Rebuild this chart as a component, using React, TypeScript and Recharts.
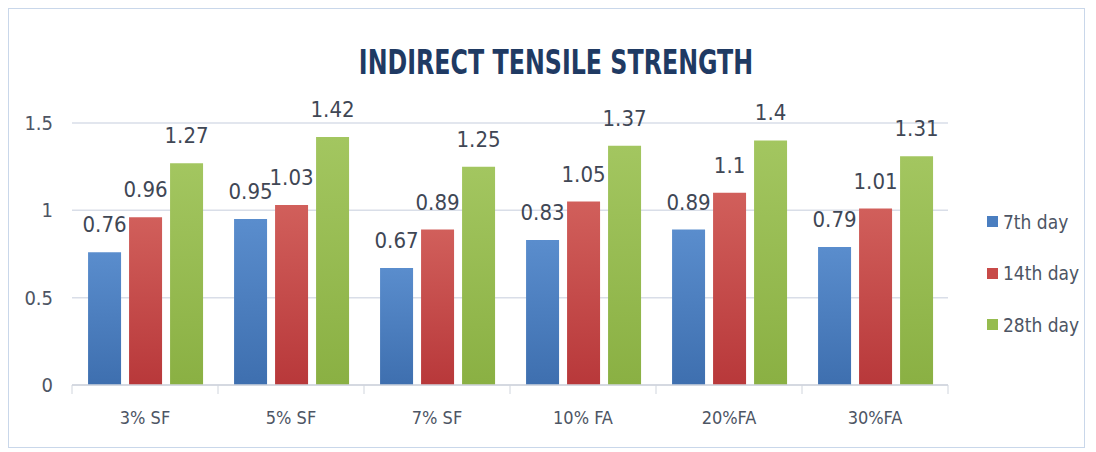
import React from 'react';
import { BarChart, Bar, XAxis, YAxis, CartesianGrid, LabelList } from 'recharts';

const categories = ['3% SF', '5% SF', '7% SF', '10% FA', '20%FA', '30%FA'];
const day7 = [0.76, 0.95, 0.67, 0.83, 0.89, 0.79];
const day14 = [0.96, 1.03, 0.89, 1.05, 1.1, 1.01];
const day28 = [1.27, 1.42, 1.25, 1.37, 1.4, 1.31];
const yTicks = [0, 0.5, 1, 1.5];

const FONT = '"DejaVu Sans Condensed", "Liberation Sans", sans-serif';

const series = [
  { key: 'd7', name: '7th day', top: '#5A8DCD', bottom: '#3E6FAF', swatch: '#4A7EC0' },
  { key: 'd14', name: '14th day', top: '#D15F5B', bottom: '#B8383A', swatch: '#C84A48' },
  { key: 'd28', name: '28th day', top: '#A3C660', bottom: '#8AB043', swatch: '#96BC4F' },
];

const data = categories.map((name, i) => ({
  name,
  d7: day7[i],
  d14: day14[i],
  d28: day28[i],
}));

// category label plus a short tick mark on the left edge of each band (and the last right edge)
const CategoryTick = (props: any) => {
  const { x, y, payload, index, width, visibleTicksCount } = props;
  const half = payload.offset || width / visibleTicksCount / 2;
  const last = index === visibleTicksCount - 1;
  return (
    <g>
      <line x1={x - half} x2={x - half} y1={y} y2={y + 9} stroke="#D0D5DD" />
      {last && <line x1={x + half} x2={x + half} y1={y} y2={y + 9} stroke="#D0D5DD" />}
      <text x={x} y={y + 39} textAnchor="middle" fill="#4D5564" fontSize={18} fontFamily={FONT}>
        {payload.value}
      </text>
    </g>
  );
};

const App = () => {
  return (
    <div
      style={{
        position: 'relative',
        width: 1075,
        height: 438,
        border: '1px solid #C9D7EA',
        background: '#fff',
        fontFamily: FONT,
      }}
    >
      <div
        style={{
          position: 'absolute',
          left: 0,
          width: 1094,
          top: 34,
          textAlign: 'center',
          fontSize: 33,
          fontWeight: 'bold',
          color: '#1F3A63',
          transform: 'scaleX(0.8)',
          transformOrigin: '547px 0',
        }}
      >
        INDIRECT TENSILE STRENGTH
      </div>
      <BarChart
        width={1074}
        height={437}
        data={data}
        margin={{ top: 114, right: 135, left: 0, bottom: 21 }}
        barCategoryGap="11%"
        barGap={8}
      >
        <defs>
          {series.map((s) => (
            <linearGradient key={s.key} id={`grad-${s.key}`} x1="0" y1="0" x2="0" y2="1">
              <stop offset="0%" stopColor={s.top} />
              <stop offset="100%" stopColor={s.bottom} />
            </linearGradient>
          ))}
        </defs>
        <CartesianGrid vertical={false} stroke="#D9DEE8" strokeWidth={1.5} />
        <XAxis
          dataKey="name"
          height={40}
          tickSize={0}
          tickMargin={0}
          tick={<CategoryTick />}
          axisLine={{ stroke: '#D0D5DD', strokeWidth: 1.5 }}
          interval={0}
        />
        <YAxis
          width={63}
          domain={[0, 1.5]}
          ticks={yTicks}
          axisLine={false}
          tickLine={false}
          tickSize={0}
          tickMargin={19}
          tick={{ fill: '#4D5564', fontSize: 20, fontFamily: FONT }}
        />
        {series.map((s) => (
          <Bar key={s.key} dataKey={s.key} name={s.name} fill={`url(#grad-${s.key})`} isAnimationActive={false}>
            <LabelList
              dataKey={s.key}
              position="top"
              offset={20}
              fill="#3F4755"
              fontSize={22}
              fontFamily={FONT}
            />
          </Bar>
        ))}
      </BarChart>
      <div style={{ position: 'absolute', left: 978, top: 187 }}>
        {series.map((s) => (
          <div
            key={s.key}
            style={{ height: 51.5, display: 'flex', alignItems: 'center', fontSize: 19, color: '#4D5564' }}
          >
            <span style={{ width: 11, height: 11, background: s.swatch, marginRight: 5, display: 'inline-block' }} />
            {s.name}
          </div>
        ))}
      </div>
    </div>
  );
};

export default App;
